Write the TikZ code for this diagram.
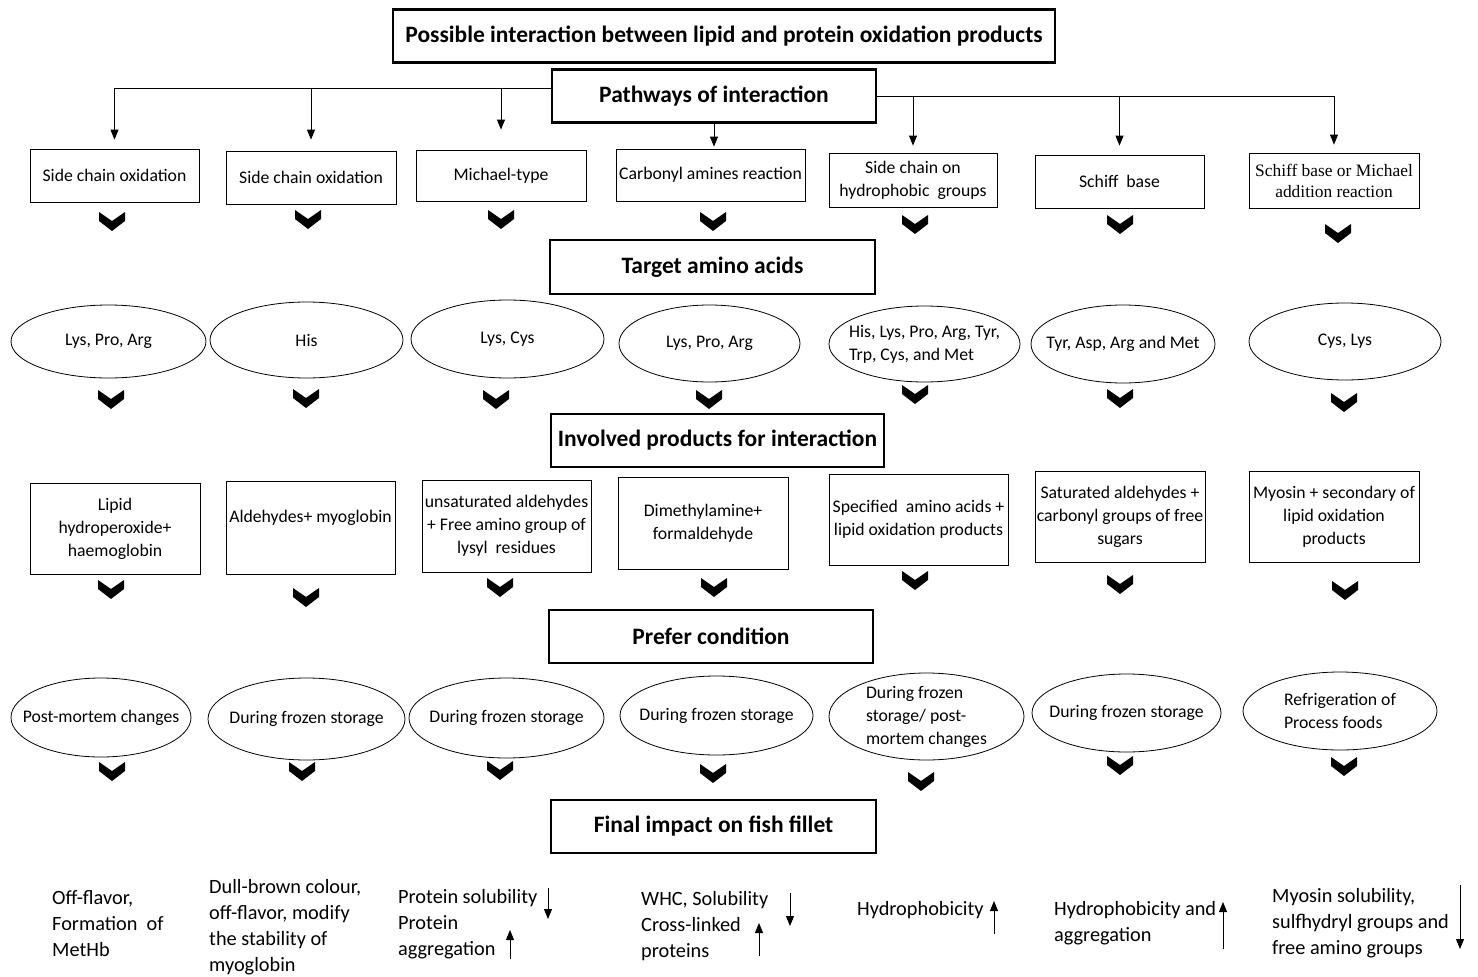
\documentclass[tikz,border=0pt]{standalone}
\usepackage{fontspec}
\setmainfont{Carlito}
\newfontfamily\timesface{Liberation Serif}
\usetikzlibrary{arrows.meta, shapes.geometric, positioning}

\tikzset{
  heading/.style={draw, line width=2.2pt, minimum width=324pt, minimum height=53pt,
    font=\fontsize{23.5}{28}\selectfont\bfseries},
  pbox/.style={draw, line width=0.8pt, align=center, inner sep=1pt,
    font=\fontsize{17.7}{23}\selectfont},
  oval/.style={ellipse, draw, line width=0.8pt, align=center, inner xsep=-60pt, inner ysep=-20pt,
    font=\fontsize{17.7}{23}\selectfont},
  impact/.style={anchor=west, align=left, inner sep=0pt,
    font=\fontsize{20.3}{26}\selectfont},
  drop/.style={-{Triangle[length=10pt,width=8pt]}, line width=0.9pt},
  chev/.pic={\fill (-13,-9) -- (0,0) -- (13,-9) -- (13,0) -- (0,10) -- (-13,0) -- cycle;}
}

\begin{document}
\begin{tikzpicture}[x=1pt, y=-1pt]
        \useasboundingbox (0,0) rectangle (1478,977);

        % Title
        \node (title) [heading, minimum width=662pt] at (724,36)
            {Possible interaction between lipid and protein oxidation products};

        % Pathways of interaction
        \node (pw) [heading] at (714,96) {Pathways of interaction};
        \node (s1) [pbox, minimum width=169pt, minimum height=53pt] at (114.5,175.5) {Side chain oxidation};
        \node (s2) [pbox, minimum width=170pt, minimum height=53pt] at (311,177.5) {Side chain oxidation};
        \node (s3) [pbox, minimum width=170pt, minimum height=51pt] at (501,175.5) {Michael-type};
        \node (s4) [pbox, minimum width=189pt, minimum height=52pt] at (710.5,175) {Carbonyl amines reaction};
        \node (s5) [pbox, minimum width=168pt, minimum height=54pt] at (913,180) {Side chain on\\hydrophobic\ \ groups};
        \node (s6) [pbox, minimum width=169pt, minimum height=53pt] at (1119.5,181.5) {Schiff\ \ base};
        \node (s7) [pbox, minimum width=170pt, minimum height=55pt, font=\fontsize{17.4}{21}\timesface] at (1334,180.5)
            {Schiff base or Michael\\addition reaction};

        % Branch lines
        \coordinate (lj) at ([yshift=8pt]pw.west);
        \draw [drop, shorten >=9pt] (lj) -| (s1);
        \draw [drop, shorten >=11pt] (lj) -| (s2);
        \draw [drop, shorten >=20pt] (lj) -| (s3);
        \draw [drop, shorten >=2pt] (pw) -- (pw |- s4.north);
        \draw [drop, shorten >=7pt] (pw.east) -| (s5);
        \draw [drop, shorten >=9pt] (pw.east) -| (s6);
        \draw [drop, shorten >=8pt] (pw.east) -| (s7);

        % Chevrons
        \path (112,221) pic {chev} (308,219) pic {chev} (501,219) pic {chev}
              (713,221) pic {chev} (915,224) pic {chev} (1120,224) pic {chev}
              (1338,233) pic {chev};

        % Target amino acids
        \node (ta) [heading, minimum width=325pt, minimum height=54pt] at (712.5,267) {Target amino acids};
        \node (a1) [oval, minimum width=195pt, minimum height=73pt] at (108.5,341.5) {Lys, Pro, Arg};
        \node (a2) [oval, minimum width=193pt, minimum height=76pt] at (306.5,340) {His};
        \node (a3) [oval, minimum width=193pt, minimum height=78pt] at (507.5,339) {Lys, Cys};
        \node (a4) [oval, minimum width=181pt, minimum height=77pt] at (709.5,343.5) {Lys, Pro, Arg};
        \node (a5) [oval, minimum width=191pt, minimum height=76pt, align=left] at (924.5,344)
            {His, Lys, Pro, Arg, Tyr,\\Trp, Cys, and Met};
        \node (a6) [oval, minimum width=184pt, minimum height=78pt] at (1123,344) {Tyr, Asp, Arg and Met};
        \node (a7) [oval, minimum width=192pt, minimum height=77pt] at (1345,341.5) {Cys, Lys};

        % Chevrons
        \path (111,399) pic {chev} (306,398) pic {chev} (496,399) pic {chev}
              (709,399) pic {chev} (915,394) pic {chev} (1120,398) pic {chev}
              (1344,402) pic {chev};

        % Involved products for interaction
        \node (ip) [heading, minimum width=333pt] at (717.5,440.5) {Involved products for interaction};
        \node (b1) [pbox, minimum width=170pt, minimum height=91pt] at (115,528.5) {Lipid\\hydroperoxide+\\haemoglobin};
        \node (b2) [pbox, minimum width=169pt, minimum height=93pt] at (310.5,527.5) {Aldehydes+\ myoglobin\\\mbox{}};
        \node (b3) [pbox, minimum width=169pt, minimum height=92pt] at (506.5,526)
            {unsaturated aldehydes\\+ Free amino group of\\lysyl\ \ residues};
        \node (b4) [pbox, minimum width=170pt, minimum height=92pt] at (703,523) {Dimethylamine+\\formaldehyde};
        \node (b5) [pbox, minimum width=179pt, minimum height=91pt] at (918.5,519.5)
            {Specified\ \ amino acids +\\lipid oxidation products};
        \node (b6) [pbox, minimum width=170pt, minimum height=91pt] at (1120,516.5)
            {Saturated aldehydes +\\carbonyl groups of free\\sugars};
        \node (b7) [pbox, minimum width=170pt, minimum height=91pt] at (1334,516.5)
            {Myosin + secondary of\\lipid oxidation\\products};

        % Chevrons
        \path (111,589) pic {chev} (306,597) pic {chev} (500,587) pic {chev}
              (714,587) pic {chev} (915,580) pic {chev} (1120,584) pic {chev}
              (1345,590) pic {chev};

        % Prefer condition
        \node (pc) [heading] at (711,636.5) {Prefer condition};
        \node (c1) [oval, minimum width=180pt, minimum height=79pt] at (101,717.5) {Post-mortem changes};
        \node (c2) [oval, minimum width=197pt, minimum height=82pt] at (306.5,719) {During frozen storage};
        \node (c3) [oval, minimum width=195pt, minimum height=80pt] at (506.5,718) {During frozen storage};
        \node (c4) [oval, minimum width=193pt, minimum height=79pt] at (716.5,715.5) {During frozen storage};
        \node (c5) [oval, minimum width=195pt, minimum height=87pt, align=left] at (926.5,716.5)
            {During frozen\\storage/ post-\\mortem changes};
        \node (c6) [oval, minimum width=189pt, minimum height=78pt] at (1126.5,713) {During frozen storage};
        \node (c7) [oval, minimum width=194pt, minimum height=78pt, align=left] at (1340,711)
            {Refrigeration of\\Process foods};

        % Chevrons
        \path (112,771) pic {chev} (302,771) pic {chev} (500,770) pic {chev}
              (713,773) pic {chev} (921,781) pic {chev} (1120,765) pic {chev}
              (1344,766) pic {chev};

        % Final impact on fish fillet
        \node (fi) [heading, minimum width=325pt] at (713.5,826.5) {Final impact on fish fillet};
        \node (e1) [impact] at (52,924) {Off-flavor,\\Formation\ \ of\\MetHb};
        \node (e2) [impact] at (209,927) {Dull-brown colour,\\off-flavor, modify\\the stability of\\myoglobin};
        \node (e3) [impact] at (398,924) {Protein solubility\\Protein\\aggregation};
        \node (e4) [impact] at (641,926) {WHC, Solubility\\Cross-linked\\proteins};
        \node (e5) [impact] at (857,910) {Hydrophobicity};
        \node (e6) [impact] at (1054,923) {Hydrophobicity and\\aggregation};
        \node (e7) [impact] at (1272,923) {Myosin solubility,\\sulfhydryl groups and\\free amino groups};

        % Trend arrows
        \draw [drop] (548,888) -- (548,919);
        \draw [drop] (510,959) -- (510,930);
        \draw [drop] (790,893) -- (790,926);
        \draw [drop] (759,956) -- (759,923);
        \draw [drop] (994,934) -- (994,901);
        \draw [drop] (1223,949) -- (1223,902);
        \draw [drop] (1460,885) -- (1460,949);
\end{tikzpicture}
\end{document}
